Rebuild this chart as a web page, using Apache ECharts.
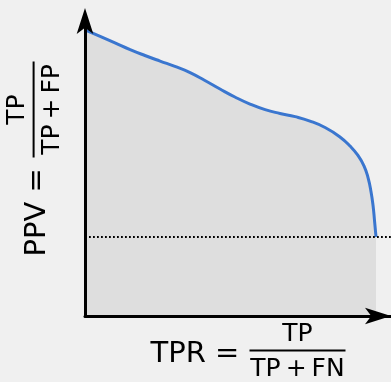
<!DOCTYPE html>
<html>
<head>
<meta charset="utf-8">
<script src="https://cdn.jsdelivr.net/npm/echarts@6/dist/echarts.min.js"></script>
<style>
  html, body { margin: 0; padding: 0; background: #f0f0f0; }
  #chart { width: 391px; height: 382px; }
</style>
</head>
<body>
<div id="chart"></div>
<script>
// Precision–recall curve: recall (TPR) on x, precision (PPV) on y
const tpr = [0, 0.052, 0.103, 0.155, 0.206, 0.258, 0.309, 0.361, 0.412, 0.464, 0.515, 0.567, 0.619,
             0.670, 0.722, 0.773, 0.825, 0.876, 0.911, 0.938, 0.959, 0.973, 0.983, 0.990, 0.995, 1.0];
const ppv = [0.973, 0.951, 0.929, 0.906, 0.886, 0.867, 0.849, 0.828, 0.801, 0.772, 0.745, 0.721, 0.702,
             0.689, 0.678, 0.663, 0.641, 0.609, 0.578, 0.546, 0.510, 0.469, 0.422, 0.374, 0.323, 0.269];
// Precision of a no-skill classifier (positive class prevalence)
const chanceLevel = 0.269;

// Axis titles written as fractions: [left part, numerator, denominator]
const xTitle = ['TPR =', 'TP', 'TP\u2009+\u2009FN'];
const yTitle = ['PPV =', 'TP', 'TP\u2009+\u2009FP'];

const xMax = 1.0515;   // room to the right of TPR = 1 for the arrow head
const FONT = 'DejaVu Sans';
const ARROW = 'path://M8,0 L16,25 L8,19 L0,25 Z';

function fractionTitle(parts, x, y, rotation) {
  return {
    type: 'group', x: x, y: y, rotation: rotation, silent: true,
    children: [
      { type: 'text', x: 0, y: 0,
        style: { text: parts[0], fontFamily: FONT, fontSize: 29, fill: '#000',
                 align: 'left', verticalAlign: 'middle' } },
      { type: 'line', shape: { x1: 99, y1: -3.4, x2: 195, y2: -3.4 },
        style: { stroke: '#000', lineWidth: 2 } },
      { type: 'text', x: 147, y: -19.4,
        style: { text: parts[1], fontFamily: FONT, fontSize: 25, fill: '#000',
                 align: 'center', verticalAlign: 'middle' } },
      { type: 'text', x: 147, y: 15,
        style: { text: parts[2], fontFamily: FONT, fontSize: 25, fill: '#000',
                 align: 'center', verticalAlign: 'middle' } }
    ]
  };
}

function axisOf(max, offset) {
  return {
    type: 'value', min: 0, max: max, z: 10,
    axisLine: { show: true, onZero: false, symbol: ['none', ARROW], symbolSize: [17, 26],
                symbolOffset: [0, offset], lineStyle: { color: '#000', width: 3 } },
    axisTick: { show: false }, axisLabel: { show: false }, splitLine: { show: false }
  };
}

const chart = echarts.init(document.getElementById('chart'), null, { renderer: 'canvas' });
chart.setOption({
  animation: false,
  backgroundColor: '#f0f0f0',
  grid: { left: 85, right: 0, top: 22, bottom: 66 },
  xAxis: axisOf(xMax, -13),
  yAxis: axisOf(1, 1),
  series: [{
    type: 'line',
    data: tpr.map((x, i) => [x, ppv[i]]),
    smooth: 0.5,
    symbol: 'none',
    lineStyle: { color: '#3a76cf', width: 3 },
    areaStyle: { color: '#dedede', opacity: 1 },
    markLine: {
      silent: true, symbol: 'none', label: { show: false },
      lineStyle: { color: '#000', width: 1.8, type: [1.8, 2.2] },
      data: [[{ coord: [0, chanceLevel] }, { coord: [xMax, chanceLevel] }]]
    }
  }],
  graphic: [
    fractionTitle(xTitle, 150.5, 354, 0),
    fractionTitle(yTitle, 37, 256.5, Math.PI / 2)
  ]
});
</script>
</body>
</html>
